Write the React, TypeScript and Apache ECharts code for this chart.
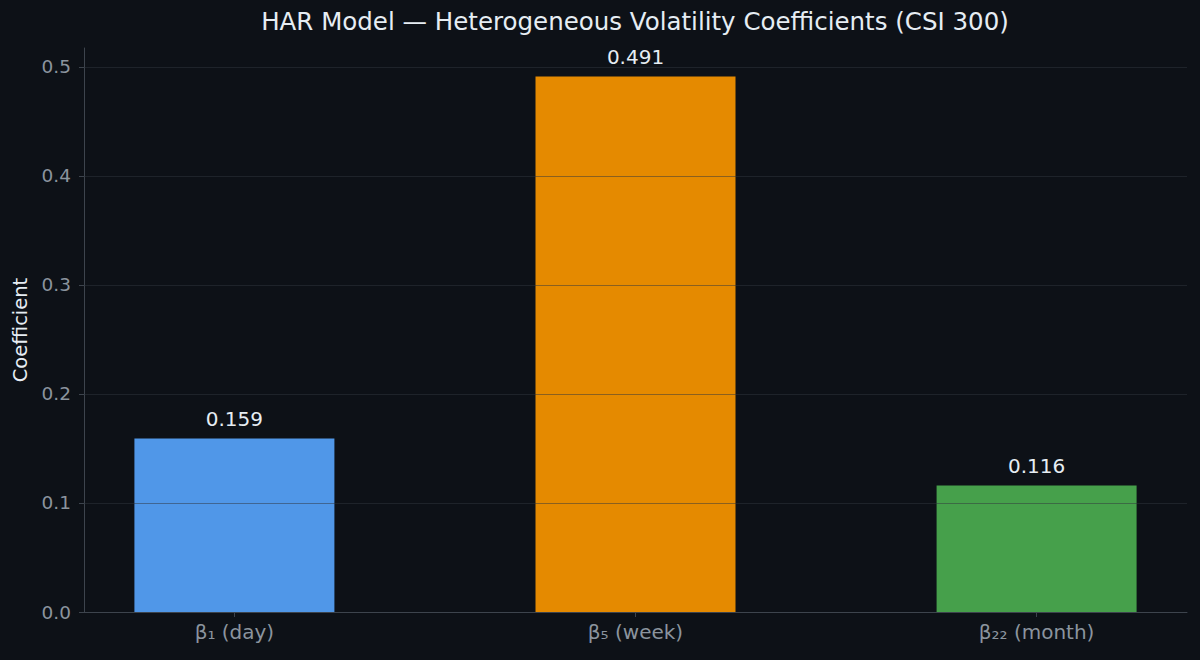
import React, { useEffect, useRef } from "react";
import * as echarts from "echarts";

const categories = ["β₁ (day)", "β₅ (week)", "β₂₂ (month)"];
const coefficients = [0.159, 0.491, 0.116];
const barColors = ["#5097e8", "#e58a00", "#46a04b"];
const yTicks = [0, 0.1, 0.2, 0.3, 0.4, 0.5];
const xTicks = [0, 1, 2];

const FONT = "DejaVu Sans";

export default function App() {
  const ref = useRef<HTMLDivElement>(null);
  useEffect(() => {
    if (!ref.current) return;
    const chart = echarts.init(ref.current, null, { renderer: "svg" });
    const option: any = {
      animation: false,
      backgroundColor: "#0d1117",
      textStyle: { fontFamily: FONT },
      title: {
        text: "HAR Model — Heterogeneous Volatility Coefficients (CSI 300)",
        left: 630,
        top: 4,
        textAlign: "center",
        textStyle: { fontFamily: FONT, fontSize: 24.5, fontWeight: "normal", color: "#e6edf3" },
      },
      grid: {
        left: 84,
        right: 13,
        top: 48,
        bottom: 48,
        containLabel: false,
        outerBoundsMode: "none",
      },
      xAxis: {
        type: "value",
        min: -0.375,
        max: 2.375,
        splitLine: { show: false },
        axisLine: { show: true, onZero: false, lineStyle: { color: "#3d444d", width: 1 } },
        axisTick: { show: true, customValues: xTicks, length: 5, lineStyle: { color: "#3d444d" } },
        axisLabel: {
          show: true,
          customValues: xTicks,
          formatter: (v: number) => categories[Math.round(v)] ?? "",
          fontFamily: FONT,
          fontSize: 20,
          color: "#8b949e",
          margin: 10,
        },
      },
      yAxis: {
        type: "value",
        min: 0,
        max: 0.5172,
        splitLine: { show: false },
        axisLine: { show: true, onZero: false, lineStyle: { color: "#3d444d", width: 1 } },
        axisTick: { show: true, customValues: yTicks, length: 5, lineStyle: { color: "#3d444d" } },
        axisLabel: {
          show: true,
          customValues: yTicks,
          formatter: (v: number) => v.toFixed(1),
          fontFamily: FONT,
          fontSize: 18.5,
          color: "#8b949e",
          margin: 13,
        },
        name: "Coefficient",
        nameLocation: "middle",
        nameRotate: 90,
        nameGap: 52,
        nameTextStyle: { fontFamily: FONT, fontSize: 19.5, color: "#e6edf3" },
      },
      series: [
        {
          type: "bar",
          barWidth: 200,
          data: coefficients.map((v, i) => ({
            value: [i, v],
            itemStyle: { color: barColors[i] },
          })),
          label: {
            show: true,
            position: "top",
            distance: 10,
            formatter: (p: any) => Number(p.value[1]).toFixed(3),
            fontFamily: FONT,
            fontSize: 20,
            color: "#e6edf3",
          },
          markLine: {
            silent: true,
            symbol: ["none", "none"],
            label: { show: false },
            z: 10,
            lineStyle: { color: "rgba(48,54,61,0.5)", width: 1, type: "solid" },
            data: yTicks.filter((t) => t > 0).map((t) => ({ yAxis: t })),
          },
        },
      ],
    };
    chart.setOption(option);
    return () => chart.dispose();
  }, []);
  return (
    <div
      ref={ref}
      style={{ position: "fixed", left: 0, top: 0, width: 1200, height: 660, background: "#0d1117" }}
    />
  );
}
